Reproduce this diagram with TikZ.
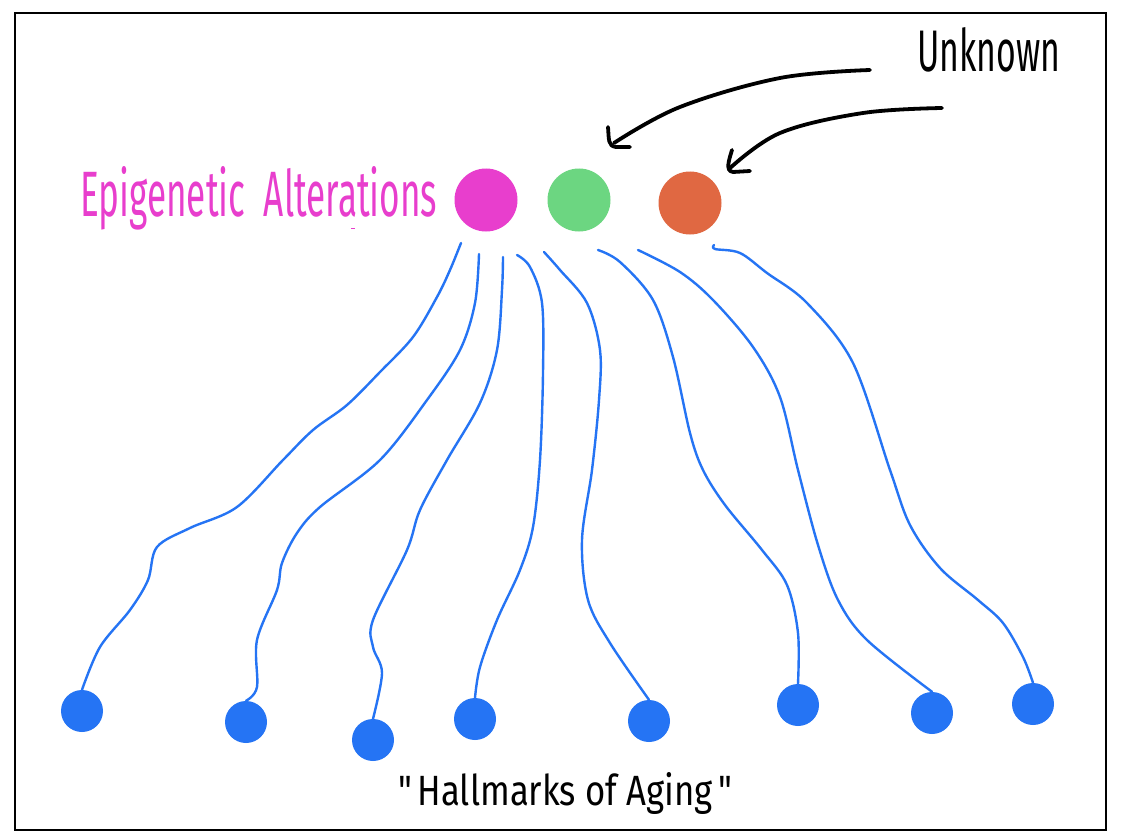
\documentclass[tikz,border=0pt]{standalone}
\usepackage{fontspec}
\setmainfont{Fira Sans}
\newfontfamily\hand{Fira Sans}
\usepackage{graphicx}
\definecolor{magc}{HTML}{E83ECD}
\definecolor{grnc}{HTML}{6CD681}
\definecolor{orgc}{HTML}{E06842}
\definecolor{bluc}{HTML}{2574F4}
\tikzset{
  bigdot/.style={circle, inner sep=0pt, minimum size=63pt},
  hallmark/.style={circle, inner sep=0pt, minimum size=42pt, fill=bluc},
  link/.style={draw=bluc, line width=2.4pt, line cap=round, line join=round},
  pointer/.style={draw=black, line width=3.8pt, line cap=round, line join=round},
  label/.style={inner sep=0pt, anchor=base west, font=\hand}
}
\begin{document}
\begin{tikzpicture}[x=1pt,y=-1pt]
\useasboundingbox (0,0) rectangle (1122,840);
\fill[white] (0,0) rectangle (1122,840);
\draw[line width=2.5pt] (15,13) rectangle (1106,830);

% top circles
\node[bigdot, fill=magc] (mag) at (486,200) {};
\node[bigdot, fill=grnc] (grn) at (579,200) {};
\node[bigdot, fill=orgc] (org) at (690,203) {};

% labels
\node[label, text=magc] (epi) at (80,216) {\resizebox{357pt}{50pt}{Epigenetic\ \ Alterations}};
\node[label] (unk) at (917,72) {\resizebox{143pt}{44pt}{Unknown}};
\node[label] (hoa) at (398,805) {\resizebox{334pt}{33pt}{"\,Hallmarks of Aging\,"}};
\draw[magc, line width=1pt] (351,228) -- (355,228);

% hallmark dots
\node[hallmark] (d1) at (82,711) {};
\node[hallmark] (d2) at (246,722) {};
\node[hallmark] (d3) at (373,740) {};
\node[hallmark] (d4) at (475,719) {};
\node[hallmark] (d5) at (649,721) {};
\node[hallmark] (d6) at (798,705) {};
\node[hallmark] (d7) at (932,713) {};
\node[hallmark] (d8) at (1033,704) {};

% start points of the links
\coordinate (s1) at (461,243);
\coordinate (s2) at (479,254);
\coordinate (s3) at (503,257);
\coordinate (s4) at (517,255);
\coordinate (s5) at (544,252);
\coordinate (s6) at (598,250);
\coordinate (s7) at (638,250);
\coordinate (s8) at (714,245);

% links
\draw[link] plot[smooth, tension=0.55] coordinates {(s1) (450,270) (437,297) (413,337) (380,372) (347,405) (313,430) (283,460) (237,507) (190,528) (157,547) (148,580) (130,610) (100,647) (d1.north)};
\draw[link] plot[smooth, tension=0.55] coordinates {(s2) (475,303) (460,350) (427,400) (380,460) (320,507) (297,533) (282,563) (277,590) (257,640) (257,687) (d2.north)};
\draw[link] plot[smooth, tension=0.55] coordinates {(s3) (502,290) (497,350) (480,403) (447,460) (420,510) (407,550) (373,620) (373,647) (382,673) (d3.north)};
\draw[link] plot[smooth, tension=0.55] coordinates {(s4) (530,267) (542,303) (543,373) (540,460) (533,527) (520,570) (497,620) (480,667) (d4.north)};
\draw[link] plot[smooth, tension=0.55] coordinates {(s5) (560,270) (587,303) (600,350) (599,400) (592,470) (582,540) (588,600) (610,643) (d5.north)};
\draw[link] plot[smooth, tension=0.55] coordinates {(s6) (620,262) (653,300) (673,357) (690,433) (703,470) (725,505) (762,550) (787,585) (798,633) (d6.north)};
\draw[link] plot[smooth, tension=0.55] coordinates {(s7) (680,272) (713,300) (753,347) (780,397) (798,470) (818,545) (838,600) (867,640) (d7.north)};
\draw[link] plot[smooth, tension=0.55] coordinates {(s8) (715,249) (740,253) (767,273) (807,303) (853,363) (890,470) (910,525) (940,568) (978,600) (1003,623) (1023,657) (d8.north)};

% pointers from "Unknown"
\coordinate (a1s) at (870,70);
\coordinate (a1e) at (614,143);
\coordinate (a2s) at (942,108);
\coordinate (a2e) at (729,169);
\draw[pointer] plot[smooth, tension=0.6] coordinates {(a1s) (780,78) (680,107) (a1e)};
\draw[pointer] (608,127) .. controls (609,140) and (608,146) .. (616,147) -- (630,147);
\draw[pointer] plot[smooth, tension=0.6] coordinates {(a2s) (863,113) (780,133) (a2e)};
\draw[pointer] (732,150) .. controls (729,160) and (725,171) .. (733,172) -- (750,171);
\end{tikzpicture}
\end{document}
